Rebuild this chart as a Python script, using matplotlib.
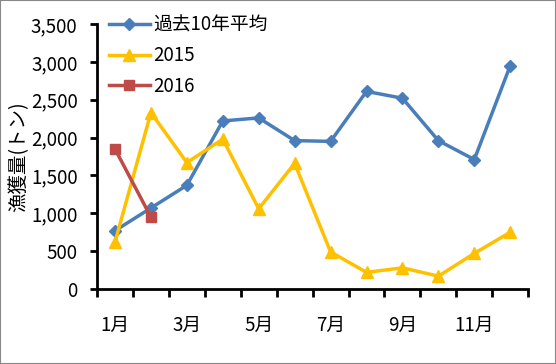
import numpy as np
import matplotlib.pyplot as plt
from matplotlib.ticker import FuncFormatter, FixedLocator

plt.rcParams['font.family'] = ['Noto Sans CJK JP', 'DejaVu Sans']

months = ["1月", "2月", "3月", "4月", "5月", "6月", "7月", "8月", "9月", "10月", "11月", "12月"]
avg10 = [770, 1070, 1370, 2220, 2260, 1960, 1950, 2610, 2520, 1960, 1710, 2950]
y2015 = [620, 2330, 1670, 1980, 1060, 1660, 490, 220, 280, 170, 470, 750]
y2016 = [1850, 950]

fig = plt.figure(figsize=(5.56, 3.64), dpi=100)
ax = fig.add_axes([0.1745, 0.206, 0.7755, 0.728])

x = np.arange(len(months))
ax.plot(x, avg10, color="#4A7EBB", lw=2.5, marker="D", ms=6, label="過去10年平均")
ax.plot(x, y2015, color="#FFC000", lw=2.5, marker="^", ms=8, label="2015")
ax.plot(x[:len(y2016)], y2016, color="#BE4B48", lw=2.5, marker="s", ms=6.5, label="2016")

ax.set_xlim(-0.5, 11.5)
ax.set_ylim(0, 3500)
ax.set_yticks(np.arange(0, 3501, 500))
ax.yaxis.set_major_formatter(FuncFormatter(lambda v, p: f"{int(v):,}"))

ax.xaxis.set_major_locator(FixedLocator(np.arange(-0.5, 12, 1)))
ax.xaxis.set_minor_locator(FixedLocator(x[::2]))
ax.set_xticklabels([])
ax.set_xticklabels(months[::2], minor=True)
ax.tick_params(axis="x", which="major", length=6, width=2, direction="out")
ax.tick_params(axis="x", which="minor", length=0, pad=19, labelsize=13.5)
ax.tick_params(axis="y", length=5, width=2, labelsize=13.5, pad=9)

for s in ["top", "right"]:
    ax.spines[s].set_visible(False)
for s in ["left", "bottom"]:
    ax.spines[s].set_linewidth(2)

ax.set_ylabel("漁獲量(トン)", fontsize=14, labelpad=1)

fig.legend(loc="upper left", bbox_to_anchor=(0.165, 1.005), frameon=False,
           fontsize=13.5, handlelength=2.2, labelspacing=0.5, handletextpad=0.2)

border = plt.Rectangle((0, 0), 1, 1, transform=fig.transFigure, fill=False,
                       edgecolor="#888888", lw=1.5)
fig.patches.append(border)

fig.savefig("out.png", dpi=100)
